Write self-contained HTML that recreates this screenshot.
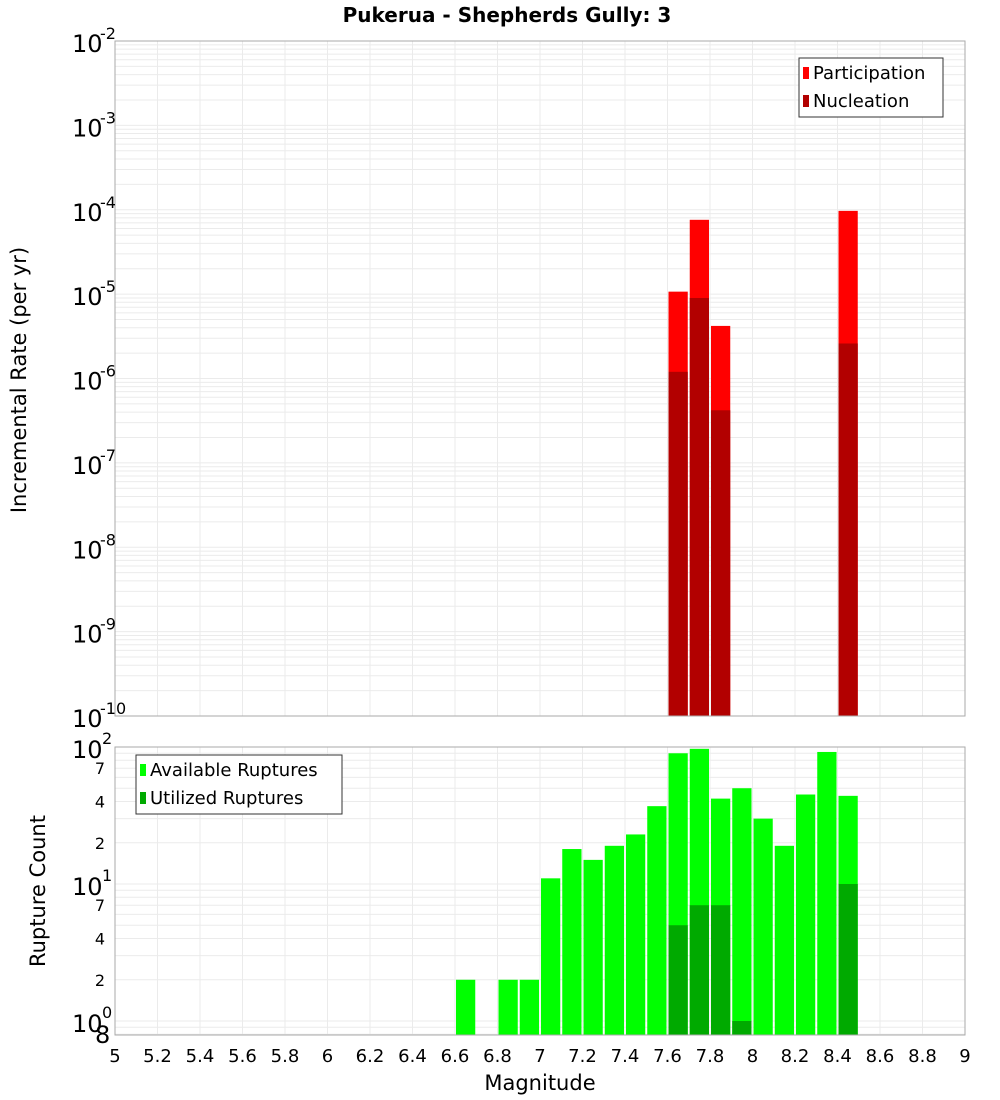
<!DOCTYPE html>
<html><head><meta charset="utf-8"><style>
body{margin:0;background:#fff;font-family:"DejaVu Sans","Liberation Sans",sans-serif;}
svg{display:block}
</style></head><body>
<svg id="c" width="1000" height="1100" xmlns="http://www.w3.org/2000/svg" font-family="DejaVu Sans, Liberation Sans, sans-serif"></svg>
<script>
const binCenters=[6.65,6.85,6.95,7.05,7.15,7.25,7.35,7.45,7.55,7.65,7.75,7.85,7.95,8.05,8.15,8.25,8.35,8.45];
const availableCounts=[2,2,2,11,18,15,19,23,37,90,97,42,50,30,19,45,92,44];
const utilizedCenters=[7.65,7.75,7.85,7.95,8.45];
const utilizedCounts=[5,7,7,1,10];
const rateCenters=[7.65,7.75,7.85,8.45];
const participationRates=[1.07e-5,7.6e-5,4.2e-6,9.7e-5];
const nucleationRates=[1.2e-6,9e-6,4.2e-7,2.6e-6];
const xTicks=[5,5.2,5.4,5.6,5.8,6,6.2,6.4,6.6,6.8,7,7.2,7.4,7.6,7.8,8,8.2,8.4,8.6,8.8,9];
const xTickLabels=["5","5.2","5.4","5.6","5.8","6","6.2","6.4","6.6","6.8","7","7.2","7.4","7.6","7.8","8","8.2","8.4","8.6","8.8","9"];
const topExps=[-10,-9,-8,-7,-6,-5,-4,-3,-2];

const NS="http://www.w3.org/2000/svg";
const svg=document.getElementById('c');
function el(t,a,txt){const e=document.createElementNS(NS,t);for(const k in a)e.setAttribute(k,a[k]);if(txt!==undefined)e.textContent=txt;svg.appendChild(e);return e;}
const X0=115,X1=965;
const xs=v=>X0+(v-5)/4*(X1-X0);
const T0=41,T1=716;
const yTop=v=>T1-(Math.log10(v)+10)/8*(T1-T0);
const B0=747,B1=1035,BDec=137;
const yBot=v=>1021-BDec*Math.log10(v);
const bw=xs(5.1)-xs(5);

// title
let t=el('text',{x:507,y:22,'text-anchor':'middle','font-size':20,'font-weight':'bold'},'Pukerua - Shepherds Gully: 3');


// top panel
let r=el('rect',{x:X0,y:T0,width:X1-X0,height:T1-T0,fill:'#fff',stroke:'none'});

for(let e=-10;e<-2;e++)for(let m=1;m<10;m++){const y=yTop(m*Math.pow(10,e));el('line',{x1:X0,x2:X1,y1:y,y2:y,stroke:'#ebebeb','stroke-width':1});}
xTicks.forEach(v=>{el('line',{x1:xs(v),x2:xs(v),y1:T0,y2:T1,stroke:'#ebebeb'});});
rateCenters.forEach((c,i)=>{
 let b=el('rect',{x:xs(c)-bw/2+1,y:yTop(participationRates[i]),width:bw-2,height:T1-yTop(participationRates[i]),fill:'#ff0000'});
 
 let n=el('rect',{x:xs(c)-bw/2+1,y:yTop(nucleationRates[i]),width:bw-2,height:T1-yTop(nucleationRates[i]),fill:'#b20000'});
 
});
el('rect',{x:X0,y:T0,width:X1-X0,height:T1-T0,fill:'none',stroke:'#aaa'});
topExps.forEach(e=>{const y=yTop(Math.pow(10,e));
 let g=el('text',{x:72,y:y+11,'font-size':24},'10');
 
 el('text',{x:100,y:y-2,'font-size':16},String(e));
});
t=el('text',{x:0,y:0,transform:'translate(26,380) rotate(-90)','text-anchor':'middle','font-size':21},'Incremental Rate (per yr)');

// legend top
let lg=el('rect',{x:799,y:58,width:144,height:59,fill:'#fff',stroke:'#333'});

el('rect',{x:803,y:67,width:6,height:12,fill:'#ff0000'});
t=el('text',{x:813,y:79,'font-size':18},'Participation');
el('rect',{x:803,y:95,width:6,height:12,fill:'#b20000'});
t=el('text',{x:813,y:107,'font-size':18},'Nucleation');

// bottom panel
for(let e=-1;e<2;e++)for(let m=1;m<10;m++){const y=yBot(m*Math.pow(10,e));if(y>=B0&&y<=B1)el('line',{x1:X0,x2:X1,y1:y,y2:y,stroke:'#ebebeb'});}
xTicks.forEach(v=>{el('line',{x1:xs(v),x2:xs(v),y1:B0,y2:B1,stroke:'#ebebeb'});});
binCenters.forEach((c,i)=>{
 const y=yBot(availableCounts[i]);
 let b=el('rect',{x:xs(c)-bw/2+1,y:y,width:bw-2,height:B1-y,fill:'#00ff00'});
 
});
utilizedCenters.forEach((c,i)=>{
 const y=yBot(utilizedCounts[i]);
 let b=el('rect',{x:xs(c)-bw/2+1,y:y,width:bw-2,height:B1-y,fill:'#00aa00'});
 
});
el('rect',{x:X0,y:B0,width:X1-X0,height:B1-B0,fill:'none',stroke:'#aaa'});
[[100,'2'],[10,'1'],[1,'0']].forEach(([v,e])=>{const y=yBot(v);
 let g=el('text',{x:72,y:y+11,'font-size':24},'10');
 
 el('text',{x:102,y:y-3,'font-size':16},e);
});
[[70,'7'],[40,'4'],[20,'2'],[7,'7'],[4,'4'],[2,'2']].forEach(([v,s])=>{const y=yBot(v);el('text',{x:105,y:y+6,'text-anchor':'end','font-size':16},s);});
el('text',{x:95,y:1043,'font-size':24},'8');
t=el('text',{x:0,y:0,transform:'translate(45,891) rotate(-90)','text-anchor':'middle','font-size':21},'Rupture Count');

lg=el('rect',{x:136,y:755,width:206,height:59,fill:'#fff',stroke:'#333'});

el('rect',{x:140,y:764,width:6,height:12,fill:'#00ff00'});
t=el('text',{x:150,y:776,'font-size':18},'Available Ruptures');
el('rect',{x:140,y:792,width:6,height:12,fill:'#00aa00'});
t=el('text',{x:150,y:804,'font-size':18},'Utilized Ruptures');

xTicks.forEach((v,i)=>{
 let g=el('text',{x:xs(v),y:1062,'text-anchor':'middle','font-size':18},xTickLabels[i]);
 
});
t=el('text',{x:540,y:1090,'text-anchor':'middle','font-size':21},'Magnitude');

</script>
</body></html>
